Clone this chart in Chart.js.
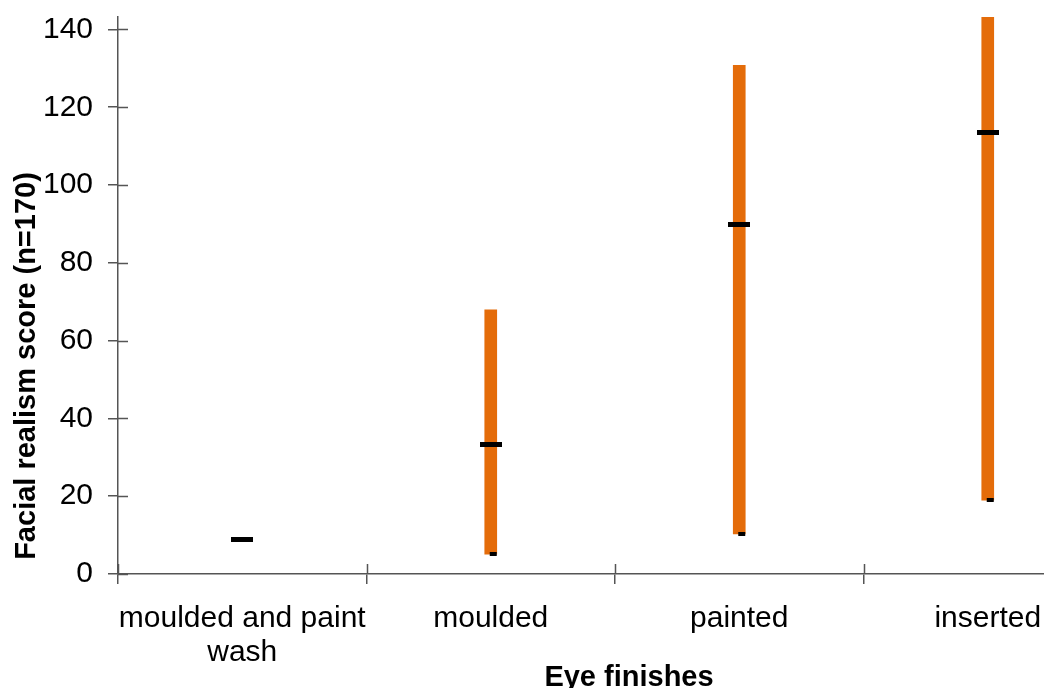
<!DOCTYPE html>
<html>
<head>
<meta charset="utf-8">
<script src="https://cdn.jsdelivr.net/npm/chart.js@4/dist/chart.umd.min.js"></script>
<style>
  html, body { margin: 0; padding: 0; background: #fff; overflow: hidden; }
  #wrap { position: relative; width: 1130px; height: 688px; }
</style>
</head>
<body>
<div id="wrap"><canvas id="c"></canvas></div>
<script>
// Eye finish categories and their facial realism scores
const categories = [['moulded and paint', 'wash'], 'moulded', 'painted', 'inserted'];
const lowScores = [null, 5.1, 10.3, 19.0];
const highScores = [null, 67.9, 130.8, 143.2];
const medianScores = [8.9, 33.2, 89.9, 113.4];
const minMarks = [null, 5.1, 10.3, 19.0];
const yTickValues = [0, 20, 40, 60, 80, 100, 120, 140];

const ORANGE = '#E46C0A';
const AXIS = '#555555';
const FONT = '"Liberation Sans", Arial, sans-serif';

// Marker images: wide dash for the median, short offset dash for the minimum
function makeMark(w, h, x0, x1) {
  const cv = document.createElement('canvas');
  cv.width = w; cv.height = h;
  const g = cv.getContext('2d');
  g.fillStyle = '#000';
  g.fillRect(x0, 0, x1 - x0, h);
  return cv;
}
const medianMark = makeMark(22, 5, 0, 22);
const minMark = makeMark(14, 4, 6, 13);

// Inner half of the axis ticks and the axis titles
const decorations = {
  id: 'decorations',
  afterDraw(chart) {
    const { ctx, chartArea, scales } = chart;
    ctx.save();
    ctx.strokeStyle = AXIS;
    ctx.lineWidth = 1.5;
    ctx.beginPath();
    scales.y.ticks.forEach((t, i) => {
      const py = Math.round(scales.y.getPixelForTick(i)) + 0.5;
      ctx.moveTo(chartArea.left, py);
      ctx.lineTo(chartArea.left + 10, py);
    });
    const n = categories.length;
    for (let i = 0; i <= n; i++) {
      const px = Math.round(chartArea.left + (chartArea.right - chartArea.left) * i / n) + 0.5;
      ctx.moveTo(px, chartArea.bottom);
      ctx.lineTo(px, chartArea.bottom - 10);
    }
    ctx.stroke();

    ctx.fillStyle = '#000';
    ctx.font = 'bold 29px ' + FONT;
    ctx.textAlign = 'center';
    ctx.textBaseline = 'alphabetic';
    ctx.fillText('Eye finishes', 629, 686);

    ctx.translate(35, 366);
    ctx.rotate(-Math.PI / 2);
    ctx.fillText('Facial realism score (n=170)', 0, 0);
    ctx.restore();
  }
};

const rangeData = lowScores.map((lo, i) => (lo === null ? null : [lo, highScores[i]]));

function noPadding(scale) {
  scale.paddingTop = 0;
  scale.paddingBottom = 0;
  scale.paddingLeft = 0;
  scale.paddingRight = 0;
}

new Chart(document.getElementById('c'), {
  data: {
    labels: categories,
    datasets: [
      {
        type: 'bar',
        label: 'Range',
        data: rangeData,
        backgroundColor: ORANGE,
        borderWidth: 0,
        barThickness: 12,
        order: 3
      },
      {
        type: 'line',
        label: 'Minimum',
        data: minMarks,
        showLine: false,
        pointStyle: minMark,
        order: 2
      },
      {
        type: 'line',
        label: 'Median',
        data: medianScores,
        showLine: false,
        pointStyle: medianMark,
        order: 1
      }
    ]
  },
  options: {
    responsive: true,
    maintainAspectRatio: false,
    animation: false,
    events: [],
    layout: { padding: { top: 17, right: 18, left: 0, bottom: 0 } },
    plugins: {
      legend: { display: false },
      tooltip: { enabled: false }
    },
    scales: {
      x: {
        type: 'category',
        offset: true,
        border: { display: true, color: AXIS, width: 1.5 },
        grid: {
          display: true,
          offset: true,
          drawOnChartArea: false,
          drawTicks: true,
          tickLength: 10,
          color: AXIS,
          lineWidth: 1.5
        },
        ticks: {
          color: '#000',
          font: { family: FONT, size: 30, lineHeight: 1.13 },
          padding: 18,
          maxRotation: 0,
          autoSkip: false
        },
        afterFit(scale) { scale.height = 114; noPadding(scale); }
      },
      y: {
        min: 0,
        max: 143.2,
        border: { display: true, color: AXIS, width: 1.5 },
        grid: {
          display: true,
          drawOnChartArea: false,
          drawTicks: true,
          tickLength: 10,
          color: AXIS,
          lineWidth: 1.5
        },
        ticks: {
          color: '#000',
          font: { family: FONT, size: 30 },
          padding: 15
        },
        afterBuildTicks(scale) {
          scale.ticks = yTickValues.map(v => ({ value: v }));
        },
        afterFit(scale) { scale.width = 118; noPadding(scale); }
      }
    }
  },
  plugins: [decorations]
});
</script>
</body>
</html>
